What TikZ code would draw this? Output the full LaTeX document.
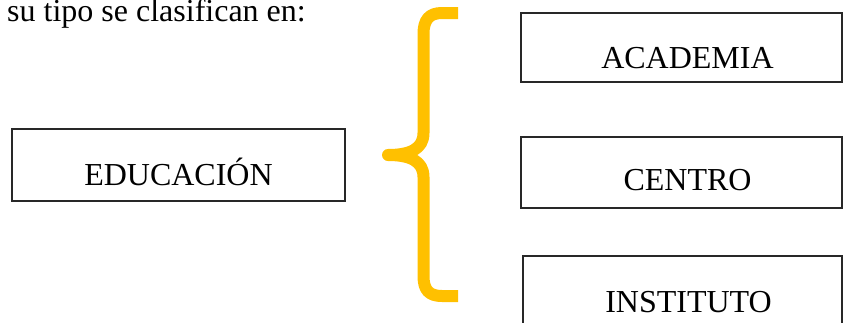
\documentclass[tikz,border=0pt]{standalone}
\usepackage{fontspec}
\setmainfont{Liberation Serif}
\definecolor{bracegold}{RGB}{255,192,0}
\definecolor{boxline}{RGB}{40,40,40}
\tikzset{
  txt/.style={font=\fontsize{32}{38}\selectfont, inner sep=0pt},
  boxnode/.style={txt, draw=boxline, line width=1.1pt, anchor=center},
  bracepath/.style={draw=bracegold, line width=12pt, line cap=butt, line join=round}
}
\begin{document}
\begin{tikzpicture}[x=1pt,y=-1pt]
\useasboundingbox (0,0) rectangle (843,322);
\node[txt, anchor=base west] (title) at (7,21) {su tipo se clasifican en:};
\node[boxnode, minimum width=333pt, minimum height=72pt, text height=56pt, text depth=16pt] (edu) at (178.5,165) {EDUCACIÓN};
\node[boxnode, minimum width=321pt, minimum height=69pt, text height=55pt, text depth=14pt] (acad) at (681.5,47.5) {\hspace*{12pt}ACADEMIA};
\node[boxnode, minimum width=321pt, minimum height=71pt, text height=53pt, text depth=18pt] (centro) at (681.5,172.5) {\hspace*{12pt}CENTRO};
\node[boxnode, minimum width=319pt, minimum height=70pt, text height=56pt, text depth=14pt] (inst) at (682.5,291) {\hspace*{12pt}INSTITUTO};
\coordinate (btop) at (458,13);
\coordinate (btip) at (388,155);
\coordinate (bbot) at (458,296);
\draw[bracepath] (btop) -- (442,13) .. controls (429,13) and (423.5,20) .. (423.5,34) -- (423.5,133)
  .. controls (423.5,149) and (410,155) .. (btip)
  .. controls (410,155) and (423.5,161) .. (423.5,177) -- (423.5,276)
  .. controls (423.5,290) and (429,296) .. (442,296) -- (bbot);
\end{tikzpicture}
\end{document}
